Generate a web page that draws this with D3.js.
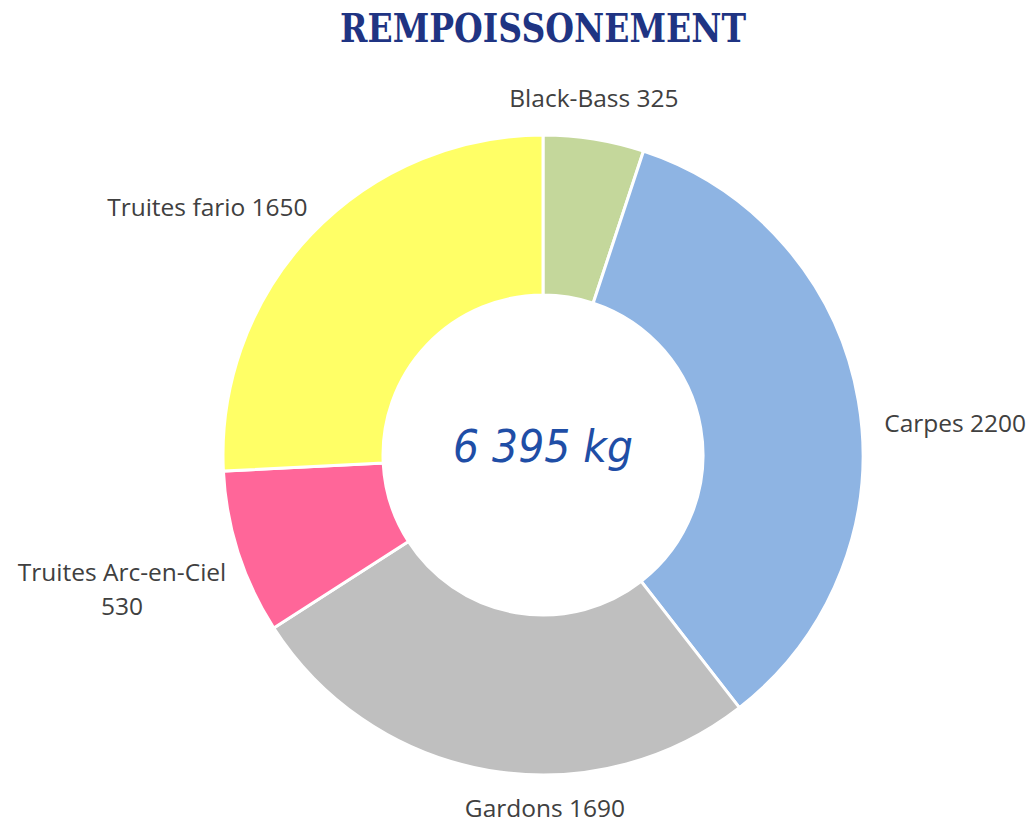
<!DOCTYPE html>
<html><head><meta charset="utf-8">
<script src="https://cdn.jsdelivr.net/npm/d3@7"></script>
<style>body{margin:0;background:#fff;}svg{display:block;}</style>
</head><body>
<svg id="chart" width="1034" height="825"></svg>
<script>
const categories = ["Black-Bass", "Carpes", "Gardons", "Truites Arc-en-Ciel", "Truites fario"];
const values = [325, 2200, 1690, 530, 1650];
const colors = ["#C4D79B", "#8EB4E3", "#BFBFBF", "#FF6699", "#FFFF66"];
const title = "REMPOISSONEMENT";
const totalLabel = "6 395 kg";

const cx = 543, cy = 455, rOuter = 320, rInner = 160;
const svg = d3.select("#chart");

svg.append("text").attr("x", 543).attr("y", 42).attr("text-anchor", "middle")
  .attr("font-family", "DejaVu Serif, serif").attr("font-weight", "bold")
  .attr("font-size", 39).attr("fill", "#1F3483").attr("textLength", 406).attr("lengthAdjust","spacingAndGlyphs")
  .text(title);

const data = categories.map((c, i) => ({cat: c, value: values[i], color: colors[i]}));
const pie = d3.pie().value(d => d.value).sort(null);
const arc = d3.arc().innerRadius(rInner).outerRadius(rOuter);
const arcs = pie(data);

const g = svg.append("g").attr("transform", `translate(${cx},${cy})`);
g.selectAll("path").data(arcs).join("path")
  .attr("d", arc).attr("fill", d => d.data.color)
  .attr("stroke", "#fff").attr("stroke-width", 3);

// label layout (anchor derived from slice mid-angle, with nudges)
const nudge = {
  "Black-Bass": {r: 358, dx: -6, dy: 5, anchor: "middle"},
  "Carpes": {r: 330, dx: 16, dy: 33, anchor: "start"},
  "Gardons": {r: 350, dx: 61, dy: 17, anchor: "middle"},
  "Truites Arc-en-Ciel": {r: 340, dx: 0, dy: 0, anchor: "middle"},
  "Truites fario": {r: 340, dx: 11, dy: -5, anchor: "end"}
};
arcs.forEach(a => {
  const n = nudge[a.data.cat];
  const mid = (a.startAngle + a.endAngle) / 2;
  let x = n.r * Math.sin(mid) + n.dx;
  let y = -n.r * Math.cos(mid) + n.dy;
  const t = g.append("text").attr("text-anchor", n.anchor)
    .attr("font-family", "Open Sans, sans-serif").attr("font-size", 24.5).attr("fill", "#404040");
  if (a.data.cat === "Truites Arc-en-Ciel") {
    x = -421; y = 126;
    t.append("tspan").attr("x", x).attr("y", y).text(a.data.cat);
    t.append("tspan").attr("x", x).attr("y", y + 34).text(a.data.value);
  } else {
    t.attr("x", x).attr("y", y).text(a.data.cat + " " + a.data.value);
  }
});

g.append("text").attr("x", 0).attr("y", 7).attr("text-anchor", "middle")
  .attr("font-family", "DejaVu Sans, sans-serif").attr("font-weight", 200).attr("font-style", "italic")
  .attr("font-size", 44).attr("fill", "#1F4EA6").attr("textLength", 180).attr("lengthAdjust","spacingAndGlyphs")
  .text(totalLabel);
</script>
</body></html>
